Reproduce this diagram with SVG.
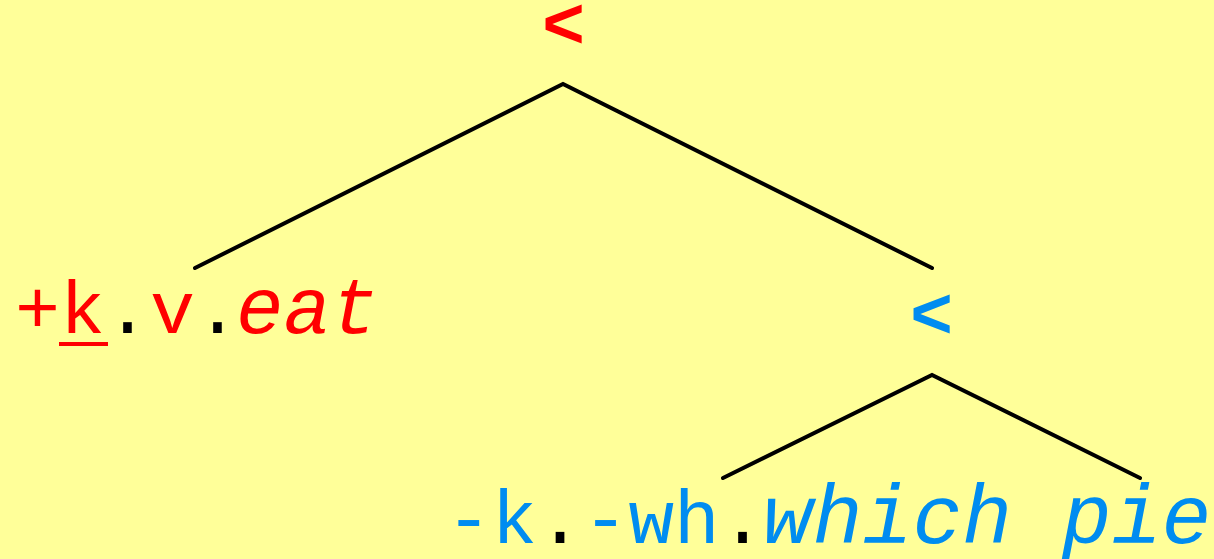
<svg xmlns="http://www.w3.org/2000/svg" width="1214" height="559" viewBox="0 0 1214 559">
<style>
.t{font-family:"Liberation Mono","Courier New",monospace;}
.it{font-style:italic;}
.red{fill:#FF0000;}
.blue{fill:#008CF0;}
.blk{fill:#000000;}
.op{font-family:"Liberation Mono","Courier New",monospace;font-weight:bold;font-size:72px;text-anchor:middle;}
.edge{fill:none;stroke:#000;stroke-width:4;stroke-linecap:round;stroke-linejoin:miter;}
</style>
<rect width="1214" height="559" fill="#FFFF99"/>
<g id="connectors">
<polyline class="edge" points="195,268 563,84 932,268"/>
<polyline class="edge" points="723,478 932,375 1140,478"/>
</g>
<g id="root">
<text class="op red" x="563.5" y="48">&lt;</text>
</g>
<g id="leaf-eat">
<text class="t" x="15" y="333" font-size="75"><tspan class="red">+k</tspan><tspan class="blk">.</tspan><tspan class="red">v</tspan><tspan class="blk">.</tspan></text>
<text class="t it red" x="236" y="333" font-size="79">eat</text>
<rect class="red" x="59" y="342" width="49" height="4"/>
</g>
<g id="node-mid">
<text class="op blue" x="931.5" y="338">&lt;</text>
</g>
<g id="leaf-which-pie">
<text class="t" x="446" y="543" font-size="76"><tspan class="blue">-k</tspan><tspan class="blk">.</tspan><tspan class="blue">-wh</tspan><tspan class="blk">.</tspan></text>
<text class="t it blue" x="763" y="543" font-size="83">which pie</text>
</g>
</svg>
